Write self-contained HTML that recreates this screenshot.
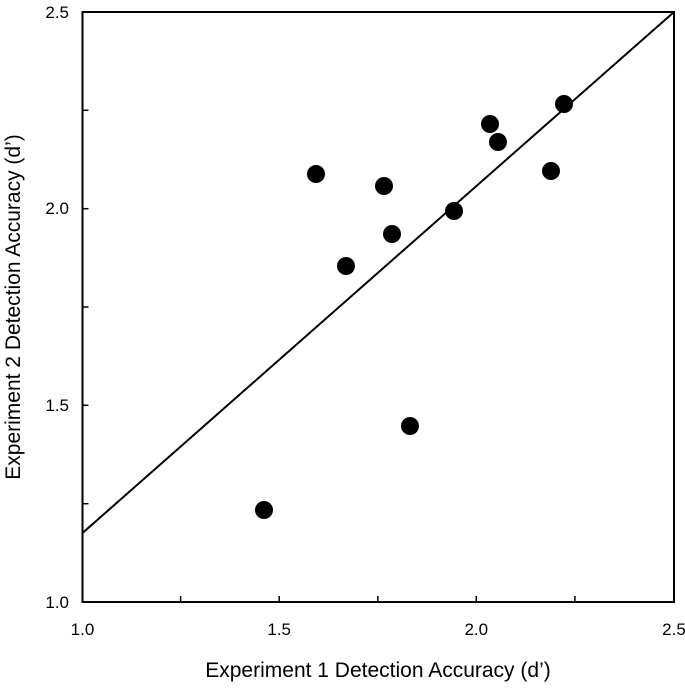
<!DOCTYPE html>
<html><head><style>body{margin:0;background:#fff}svg{display:block}</style></head><body>
<svg width="685" height="688" xmlns="http://www.w3.org/2000/svg" font-family="Liberation Sans, sans-serif">
<rect x="82.5" y="12" width="591.5" height="590" fill="none" stroke="#000" stroke-width="2"/>
<g stroke="#000" stroke-width="1.5">
<line x1="180.6" y1="602" x2="180.6" y2="596"/><line x1="279.2" y1="602" x2="279.2" y2="596"/><line x1="377.8" y1="602" x2="377.8" y2="596"/><line x1="476.3" y1="602" x2="476.3" y2="596"/><line x1="574.9" y1="602" x2="574.9" y2="596"/>
<line x1="82.5" y1="503.7" x2="88.5" y2="503.7"/><line x1="82.5" y1="405.3" x2="88.5" y2="405.3"/><line x1="82.5" y1="307" x2="88.5" y2="307"/><line x1="82.5" y1="208.7" x2="88.5" y2="208.7"/><line x1="82.5" y1="110.3" x2="88.5" y2="110.3"/>
</g>
<line x1="82.5" y1="533" x2="674" y2="12" stroke="#000" stroke-width="2"/>
<g fill="#000">
<circle cx="264" cy="510" r="9"/><circle cx="316" cy="174" r="9"/><circle cx="346" cy="266" r="9"/><circle cx="384" cy="186" r="9"/><circle cx="392" cy="234" r="9"/><circle cx="410" cy="426" r="9"/><circle cx="454" cy="211" r="9"/><circle cx="490" cy="124" r="9"/><circle cx="498" cy="142" r="9"/><circle cx="551" cy="171" r="9"/><circle cx="564" cy="104" r="9"/>
</g>
<g font-size="17" fill="#000" text-anchor="middle">
<text x="82.5" y="635">1.0</text><text x="279.2" y="635">1.5</text><text x="476.3" y="635">2.0</text><text x="674" y="635">2.5</text>
</g>
<g font-size="17" fill="#000" text-anchor="end">
<text x="69" y="608">1.0</text><text x="69" y="411">1.5</text><text x="69" y="214">2.0</text><text x="69" y="18">2.5</text>
</g>
<text x="378" y="677" font-size="21" text-anchor="middle">Experiment 1 Detection Accuracy (d’)</text>
<text transform="translate(20,307) rotate(-90)" font-size="21" text-anchor="middle">Experiment 2 Detection Accuracy (d’)</text>
</svg>
</body></html>
